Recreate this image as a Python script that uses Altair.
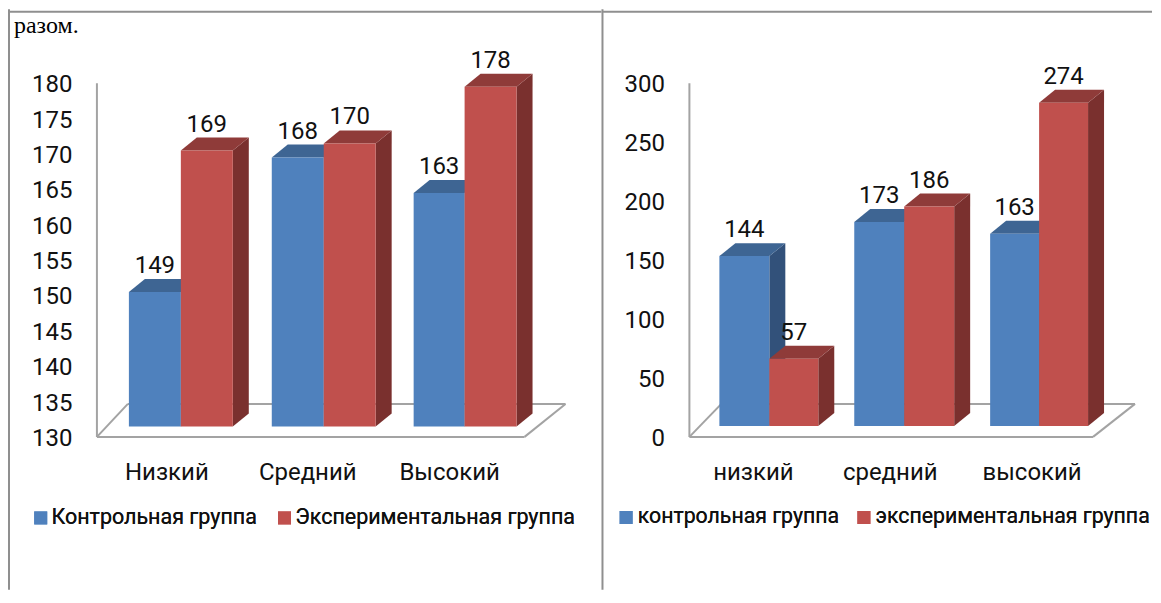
import altair as alt
import pandas as pd

# ---- chart values ----
CATS_L = ["Низкий", "Средний", "Высокий"]
CATS_R = ["низкий", "средний", "высокий"]
CTRL_L = [149, 168, 163]
EXP_L = [169, 170, 178]
CTRL_R = [144, 173, 163]
EXP_R = [57, 186, 274]
SERIES_L = ["Контрольная группа", "Экспериментальная группа"]
SERIES_R = ["контрольная группа", "экспериментальная группа"]
TICKS_L = list(range(130, 185, 5))
TICKS_R = list(range(0, 350, 50))
HEAD = ["разом."]

FONT = "Roboto"
INK = "#111111"
LINE = "#a3a3a3"
FRAME = "#8f8f8f"
BLUE = ("#4f81bd", "#3e6593", "#32517a")
RED = ("#c0504d", "#8f3b39", "#7a302e")
DX, DY = 16, 13  # depth of the 3D boxes, in pixels
PAGE_TOP, PAGE_BOTTOM = 8, 590


def panel(cats, a, b, series, ticks, cfg):
    x0, x1 = cfg["x_domain"]
    zero_px, top_px = cfg["axis_px"]
    lo, hi = ticks[0], ticks[-1]
    ppu = (zero_px - top_px) / (hi - lo)  # pixels per value unit
    y_dom = [lo - (PAGE_BOTTOM - zero_px) / ppu, hi + (top_px - PAGE_TOP) / ppu]
    w = x1 - x0
    h = PAGE_BOTTOM - PAGE_TOP
    shift = cfg["shift"] / ppu
    depth = DY / ppu
    xs = alt.Scale(domain=[x0, x1], nice=False, zero=False)
    ys = alt.Scale(domain=y_dom, nice=False, zero=False)
    y_axis = alt.Axis(
        values=ticks, title=None, domain=False, ticks=False, grid=False, orient="left",
        offset=-cfg["label_right"], labelPadding=0, labelOffset=1.5,
        labelFont=FONT, labelFontSize=24, labelColor=INK, labelOverlap=False, labelFlush=False)
    X = lambda f: alt.X(f, type="quantitative", scale=xs, axis=None)
    Y = lambda f: alt.Y(f, type="quantitative", scale=ys, axis=y_axis)

    def boxes(values, edges, colours, name):
        fronts, faces, texts = [], [], []
        for i, v in enumerate(values):
            l, r = edges[i]
            t, base = v + shift, lo + shift
            fronts.append(dict(l=l, r=r, t=t, b=base, s=name))
            texts.append(dict(x=(l + r) / 2, y=t, v=v))
            # side face, as an area between a lower and an upper edge
            faces += [dict(k=f"s{i}", c=colours[2], x=r, y=base, y2=t),
                      dict(k=f"s{i}", c=colours[2], x=r + DX, y=base + depth, y2=t + depth)]
            # top face
            faces += [dict(k=f"t{i}", c=colours[1], x=l, y=t, y2=t),
                      dict(k=f"t{i}", c=colours[1], x=l + DX, y=t, y2=t + depth),
                      dict(k=f"t{i}", c=colours[1], x=r, y=t, y2=t + depth),
                      dict(k=f"t{i}", c=colours[1], x=r + DX, y=t + depth, y2=t + depth)]
        return pd.DataFrame(fronts), pd.DataFrame(faces), pd.DataFrame(texts)

    colour = alt.Color(
        "s:N",
        scale=alt.Scale(domain=series, range=[BLUE[0], RED[0]]),
        legend=alt.Legend(
            title=None, orient="none", legendX=cfg["legend_x"], legendY=517 - PAGE_TOP - 10,
            direction="horizontal", columns=2, columnPadding=cfg["col_pad"],
            symbolType="square", symbolSize=169, symbolStrokeWidth=0, symbolOpacity=1,
            labelFont=FONT, labelFontSize=cfg["legend_fs"], labelColor=INK,
            labelOffset=cfg["label_off"], labelLimit=400, padding=0,
        ),
    )

    layers = []
    # empty wall and floor of the 3D plot
    fx0, fx1, bx0, bx1 = cfg["floor"]
    p = lambda px: lo + (zero_px - px) / ppu
    segs = pd.DataFrame([
        dict(x=fx0, y=p(top_px), x2=fx0, y2=p(zero_px)),
        dict(x=fx0, y=p(zero_px), x2=fx1, y2=p(zero_px)),
        dict(x=fx1, y=p(zero_px), x2=bx1, y2=p(404)),
        dict(x=bx1, y=p(404), x2=bx0, y2=p(404)),
        dict(x=bx0, y=p(404), x2=fx0, y2=p(zero_px)),
    ])
    layers.append(alt.Chart(segs).mark_rule(color=LINE, strokeWidth=2).encode(
        x=X("x"), x2="x2:Q", y=Y("y"), y2="y2:Q"))

    all_text = []
    for values, edges, colours, name in ((a, cfg["a_edges"], BLUE, series[0]), (b, cfg["b_edges"], RED, series[1])):
        fr, fa, te = boxes(values, edges, colours, name)
        all_text.append(te)
        layers.append(alt.Chart(fa).mark_area(interpolate="linear", opacity=1).encode(
            x=X("x"), y=Y("y"), y2="y2:Q",
            detail="k:N", color=alt.Color("c:N", scale=None, legend=None)))
        layers.append(alt.Chart(fr).mark_rect().encode(
            x=X("l"), x2="r:Q", y=Y("t"), y2="b:Q", color=colour))

    layers.append(alt.Chart(pd.concat(all_text)).mark_text(
        font=FONT, fontSize=24, color=INK, dy=-26, baseline="middle", align="center").encode(
        x=X("x"), y=Y("y"), text="v:Q"))

    # category labels
    cat_df = pd.DataFrame({"c": cats, "x": cfg["cat_x"]})
    layers.append(alt.Chart(cat_df).mark_text(
        font=FONT, fontSize=cfg["cat_fs"], color=INK, baseline="middle", align="center").encode(
        x=X("x"), y=alt.value(473 - PAGE_TOP), text="c:N"))

    # frame of the document table
    frame = [alt.Chart(pd.DataFrame({"a": [0]})).mark_rule(color=FRAME, strokeWidth=2).encode(
        x=alt.value(cfg["frame_x"]), y=alt.value(1), y2=alt.value(h)),
        alt.Chart(pd.DataFrame({"a": [0]})).mark_rule(color=FRAME, strokeWidth=2).encode(
        x=alt.value(cfg["frame_x"]), x2=alt.value(w), y=alt.value(3.5))]
    layers += frame

    layers += cfg.get("extra", [])

    return alt.layer(*layers).properties(width=w, height=h).resolve_scale(color="independent")


# the line of body text above the table: the page margin leaves no room above the
# frame, so it sits just under the frame's top line
head = alt.Chart(pd.DataFrame({"t": HEAD})).mark_text(
    font="Liberation Serif", fontSize=24, color="#000000", align="left", baseline="alphabetic"
).encode(x=alt.value(6), y=alt.value(25), text="t:N")

left = panel(CATS_L, CTRL_L, EXP_L, SERIES_L, TICKS_L, dict(
    x_domain=(8, 602), axis_px=(437, 83), shift=10.5,
    a_edges=[(129, 181), (272, 324), (414, 465)],
    b_edges=[(181, 233), (324, 376), (465, 517)],
    floor=(97, 525, 128, 566), cat_x=[167, 308, 450], cat_fs=24,
    label_right=64, legend_x=22, legend_fs=21.5, col_pad=16, frame_x=1, label_off=0, extra=[head],
))
right = panel(CATS_R, CTRL_R, EXP_R, SERIES_R, TICKS_R, dict(
    x_domain=(602, 1153), axis_px=(437, 83), shift=11,
    a_edges=[(720, 770), (855, 905), (991, 1040)],
    b_edges=[(770, 819), (905, 955), (1040, 1089)],
    floor=(690, 1094, 722, 1136), cat_x=[754, 891, 1033], cat_fs=24,
    label_right=63, legend_x=14, legend_fs=21.3, col_pad=14, frame_x=1, label_off=1,
))

chart = alt.hconcat(
    left, right, spacing=0, padding=0, bounds="flush"
).resolve_scale(color="independent", x="independent", y="independent").configure_view(stroke=None)

chart.save("out.html", embed_options={"renderer": "svg", "actions": False})
